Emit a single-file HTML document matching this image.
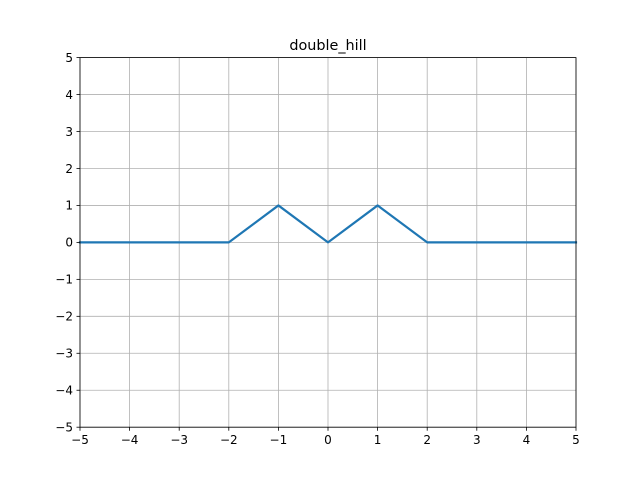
<!DOCTYPE html>
<html>
<head>
<meta charset="utf-8">
<style>
  html, body { margin: 0; padding: 0; background: #fff; }
  svg { display: block; font-family: "DejaVu Sans", "Liberation Sans", sans-serif; }
</style>
</head>
<body>
<svg id="chart" width="640" height="480" viewBox="0 0 640 480" xmlns="http://www.w3.org/2000/svg">
  <rect width="640" height="480" fill="#fff"/>
  <g id="grid"></g>
  <g id="series"></g>
  <rect x="80" y="57.6" width="496" height="369.6" fill="none" stroke="#000" stroke-width="0.8"/>
  <g id="xticks"></g>
  <g id="yticks"></g>
  <text x="328" y="50" text-anchor="middle" font-size="14.4" fill="#000">double_hill</text>
</svg>
<script>
const xValues = [-5, -2, -1, 0, 1, 2, 5];
const yValues = [0, 0, 1, 0, 1, 0, 0];
const xTicks = [-5, -4, -3, -2, -1, 0, 1, 2, 3, 4, 5];
const yTicks = [-5, -4, -3, -2, -1, 0, 1, 2, 3, 4, 5];
const xMin = -5, xMax = 5, yMin = -5, yMax = 5;

const L = 80, R = 576, T = 57.6, B = 427.2;
function sx(v) { return L + (v - xMin) / (xMax - xMin) * (R - L); }
function sy(v) { return B - (v - yMin) / (yMax - yMin) * (B - T); }
const NS = "http://www.w3.org/2000/svg";
function mk(tag, attrs, parent) {
  const e = document.createElementNS(NS, tag);
  for (const k in attrs) e.setAttribute(k, attrs[k]);
  parent.appendChild(e);
  return e;
}
function label(v) { return v < 0 ? "\u2212" + Math.abs(v) : String(v); }

const grid = document.getElementById("grid");
const xg = document.getElementById("xticks");
const yg = document.getElementById("yticks");

xTicks.forEach(v => {
  const x = sx(v);
  const gl = mk("line", {x1: x, x2: x, y1: T, y2: B, stroke: "#b0b0b0", "stroke-width": 0.8}, grid);
  
  
  const tk = mk("line", {x1: x, x2: x, y1: B, y2: B + 3.5, stroke: "#000", "stroke-width": 0.8}, xg);
  
  
  const t = mk("text", {x: x, y: B + 17, "text-anchor": "middle", "font-size": 12, fill: "#000"}, xg);
  t.textContent = label(v);
  
  
});

yTicks.forEach(v => {
  const y = sy(v);
  const gl = mk("line", {x1: L, x2: R, y1: y, y2: y, stroke: "#b0b0b0", "stroke-width": 0.8}, grid);
  
  
  const tk = mk("line", {x1: L - 3.5, x2: L, y1: y, y2: y, stroke: "#000", "stroke-width": 0.8}, yg);
  
  
  const t = mk("text", {x: L - 7, y: y + 4.3, "text-anchor": "end", "font-size": 12, fill: "#000"}, yg);
  t.textContent = label(v);
  
  
});

const pts = xValues.map((x, i) => sx(x) + "," + sy(yValues[i])).join(" ");
const line = mk("polyline", {points: pts, fill: "none", stroke: "#1f77b4", "stroke-width": 2.2, "stroke-linejoin": "round", "stroke-linecap": "square"}, document.getElementById("series"));


</script>
</body>
</html>
